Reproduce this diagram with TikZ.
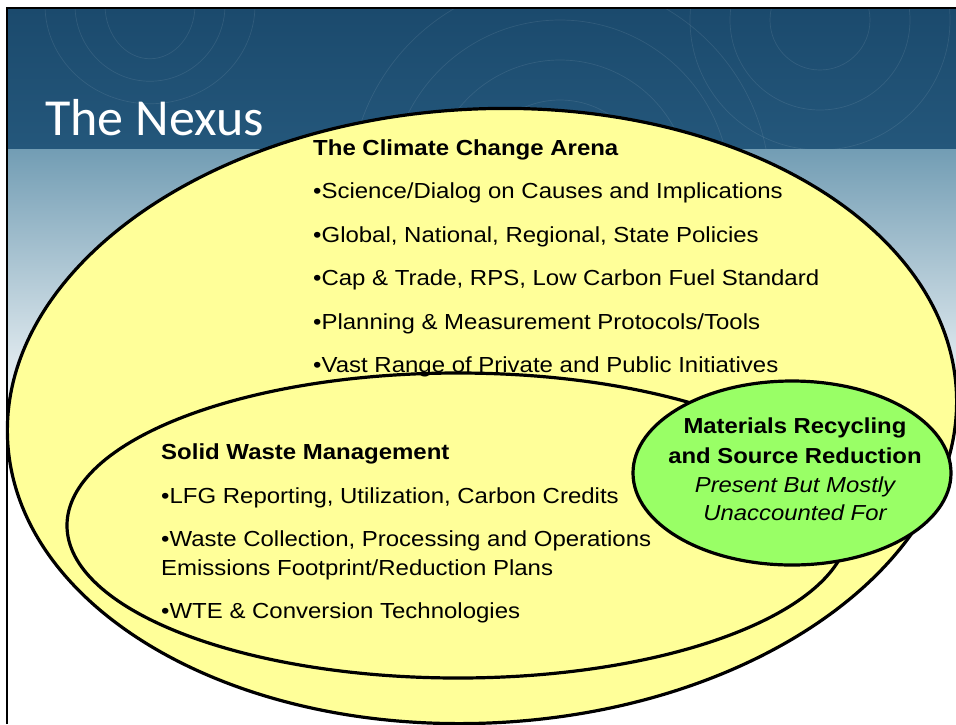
\documentclass[tikz,border=0pt]{standalone}
\usepackage{fontspec}
\setmainfont{Liberation Sans}[FakeStretch=1.1]
\newfontfamily\headfont{Carlito}
\usetikzlibrary{shapes.geometric,positioning}
\definecolor{hdrblue}{HTML}{1B4A6D}
\definecolor{hdrblue2}{HTML}{24577B}
\definecolor{bandtop}{HTML}{729DB4}
\definecolor{bandmid}{HTML}{BCD1DC}
\definecolor{paleyellow}{HTML}{FFFF99}
\definecolor{palegreen}{HTML}{99FF66}
\tikzset{
  ring/.style={ellipse, draw=black, line width=3.2pt, inner sep=0pt},
  bullets/.style={anchor=base west, inner sep=0pt, font=\fontsize{21.8}{26}\selectfont},
  greentxt/.style={anchor=base, inner sep=0pt, font=\fontsize{21.7}{26}\selectfont},
  swirl/.style={white, opacity=0.09, line width=0.7pt}
}

\begin{document}
\begin{tikzpicture}[x=1pt, y=-1pt]
  \useasboundingbox (0,0) rectangle (956,724);
  \fill[white] (0,0) rectangle (956,724);
  % slide header and fading band
  \shade[top color=hdrblue, bottom color=hdrblue2] (7,8) rectangle (956,149);
  \begin{scope}
    \clip (7,8) rectangle (956,149);
    \foreach \r in {45,75,105}
      \draw[swirl] (150,5) ellipse ({\r} and {0.75*\r+20});
    \foreach \r in {90,130,170,210}
      \draw[swirl] (560,190) circle (\r);
    \foreach \r in {50,90,130}
      \draw[swirl] (820,20) circle (\r);
  \end{scope}
  \shade[top color=bandtop, middle color=bandmid, bottom color=white] (7,149) rectangle (956,430);

  % the three arenas
  \node[ring, fill=paleyellow, minimum width=950pt, minimum height=614pt, rotate=3] (climate) at (482,416) {};
  \node[ring, fill=paleyellow, minimum width=782pt, minimum height=305pt] (waste) at (458,525.5) {};
  \node[ring, fill=palegreen, minimum width=318pt, minimum height=184pt] (recycle) at (792,473) {};

  \draw[line width=2.4pt] (7,724) -- (7,8) -- (956,8);

  \node[anchor=base west, inner sep=0pt, text=white, font=\headfont\fontsize{52}{52}\selectfont] (title) at (45,135) {The Nexus};

  % climate change arena
  \node[bullets, font=\fontsize{21.8}{26}\selectfont\bfseries] (arena) at (313,155) {The Climate Change Arena};
  \foreach \txt [count=\i] in {{Science/Dialog on Causes and Implications},
      {Global, National, Regional, State Policies},
      {Cap \& Trade, RPS, Low Carbon Fuel Standard},
      {Planning \& Measurement Protocols/Tools},
      {Vast Range of Private and Public Initiatives}}
    \node[bullets] (arena\i) at (313,{155+43.5*\i}) {•\txt};

  % solid waste management
  \node[bullets, font=\fontsize{21.8}{26}\selectfont\bfseries] (swm) at (161,459) {Solid Waste Management};
  \node[bullets] (swm1) at (161,503) {•LFG Reporting, Utilization, Carbon Credits};
  \node[bullets] (swm2) at (161,546) {•Waste Collection, Processing and Operations};
  \node[bullets] (swm3) at (161,575) {Emissions Footprint/Reduction Plans};
  \node[bullets] (swm4) at (161,618) {•WTE \& Conversion Technologies};

  % materials recycling
  \node[greentxt, font=\fontsize{21.7}{26}\selectfont\bfseries] (mr1) at (795,433) {Materials Recycling};
  \node[greentxt, font=\fontsize{21.7}{26}\selectfont\bfseries] (mr2) at (795,463) {and Source Reduction};
  \node[greentxt, font=\fontsize{21.7}{26}\selectfont\itshape] (mr3) at (795,492) {Present But Mostly};
  \node[greentxt, font=\fontsize{21.7}{26}\selectfont\itshape] (mr4) at (795,520) {Unaccounted For};
\end{tikzpicture}
\end{document}
